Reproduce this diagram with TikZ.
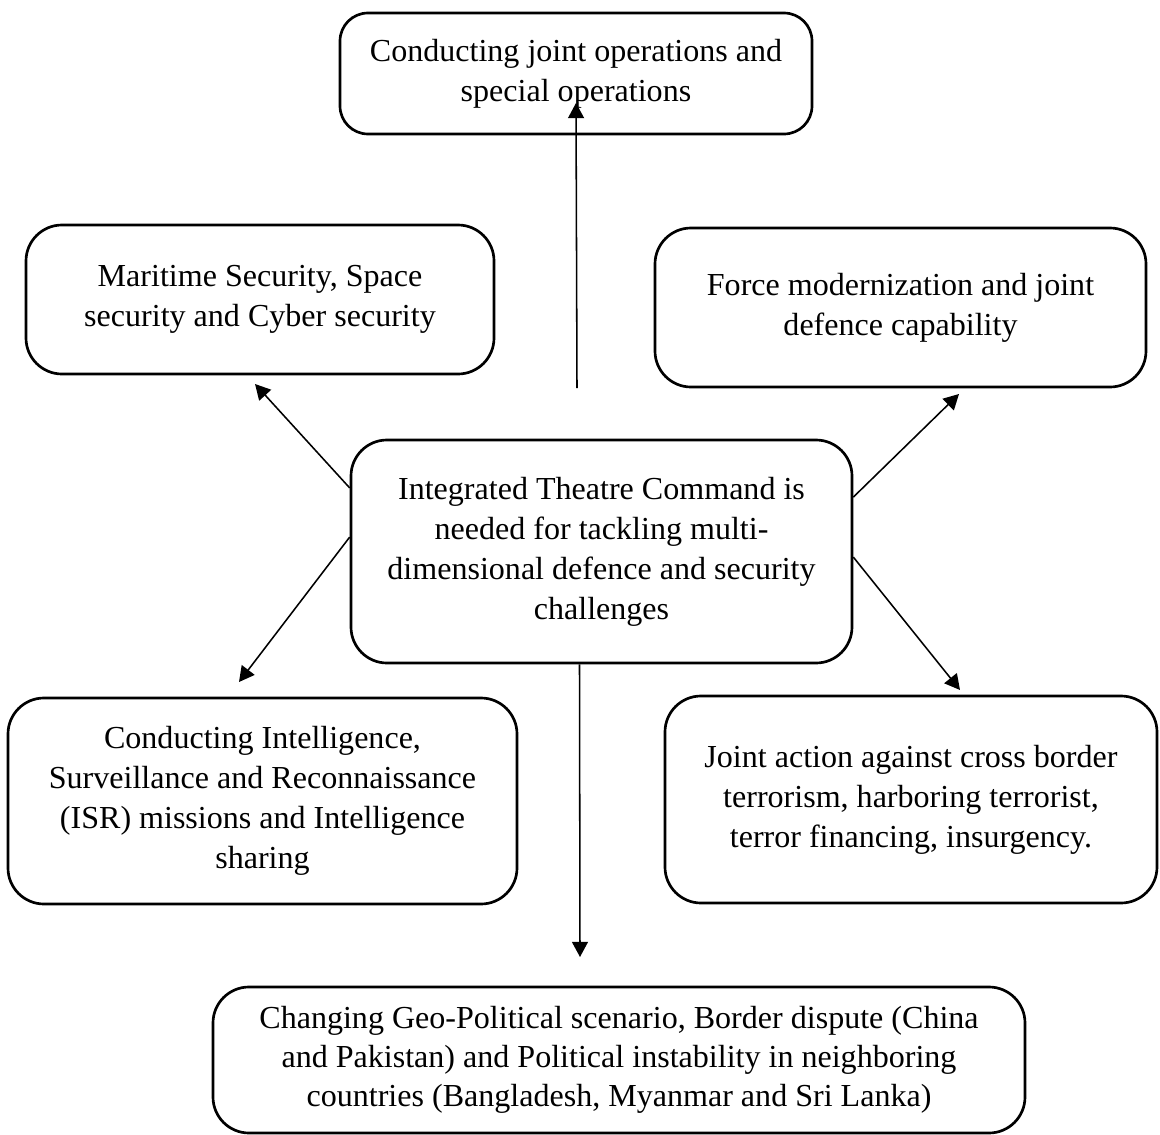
\documentclass[tikz,border=0pt]{standalone}
\usepackage{fontspec}
\setmainfont{Liberation Serif}
\usetikzlibrary{arrows.meta, positioning, calc}

\begin{document}
\begin{tikzpicture}[
  >={Triangle[length=0.38cm, width=0.4cm]},
  box/.style={draw, line width=1.9pt, rounded corners=0.9cm, align=center, inner sep=0pt, font=\fontsize{22.8}{28.45}\selectfont},
  link/.style={->, line width=1.1pt}
]
\useasboundingbox (0,0) rectangle (29,-28.375);

% Nodes
\node[box, minimum width=12.525cm, minimum height=5.575cm] (centre) at (15.0375,-13.7875)
  {Integrated Theatre Command is\\needed for tackling multi-\\dimensional defence and security\\challenges};
\node[box, rounded corners=0.7cm, minimum width=11.8cm, minimum height=3.025cm] (ops) at (14.4,-1.8375)
  {Conducting joint operations and\\special operations};
\node[box, minimum width=11.7cm, minimum height=3.725cm] (maritime) at (6.5,-7.4875)
  {Maritime Security, Space\\security and Cyber security};
\node[box, minimum width=12.275cm, minimum height=3.975cm] (force) at (22.5125,-7.6875)
  {Force modernization and joint\\defence capability};
\node[box, minimum width=12.725cm, minimum height=5.15cm] (isr) at (6.5625,-20.025)
  {Conducting Intelligence,\\Surveillance and Reconnaissance\\(ISR) missions and Intelligence\\sharing};
\node[box, minimum width=12.3cm, minimum height=5.175cm] (joint) at (22.775,-19.9875)
  {Joint action against cross border\\terrorism, harboring terrorist,\\terror financing, insurgency.};
\node[box, minimum width=20.3cm, minimum height=3.65cm, font=\fontsize{22.8}{27.7}\selectfont] (geo) at (15.475,-26.5)
  {Changing Geo-Political scenario, Border dispute (China\\and Pakistan) and Political instability in neighboring\\countries (Bangladesh, Myanmar and Sri Lanka)};

% Free ends of the arrows
\coordinate (upStart) at (14.425,-9.7);
\coordinate (upTip) at (14.4,-2.575);
\coordinate (maritimeTip) at (6.375,-9.6);
\coordinate (forceTip) at (23.975,-9.85);
\coordinate (isrTip) at (5.975,-17.05);
\coordinate (jointTip) at (24,-17.25);
\coordinate (geoTip) at (14.5,-23.925);

% Arrows
\draw[link] (upStart) -- (upTip);
\draw[link] ([yshift=1.59cm]centre.west) -- (maritimeTip);
\draw[link] ([yshift=1.36cm]centre.east) -- (forceTip);
\draw[link] ([yshift=0.36cm]centre.west) -- (isrTip);
\draw[link] ([yshift=-0.14cm]centre.east) -- (jointTip);
\draw[link] ([xshift=-0.55cm]centre.south) -- (geoTip);

\end{tikzpicture}
\end{document}
